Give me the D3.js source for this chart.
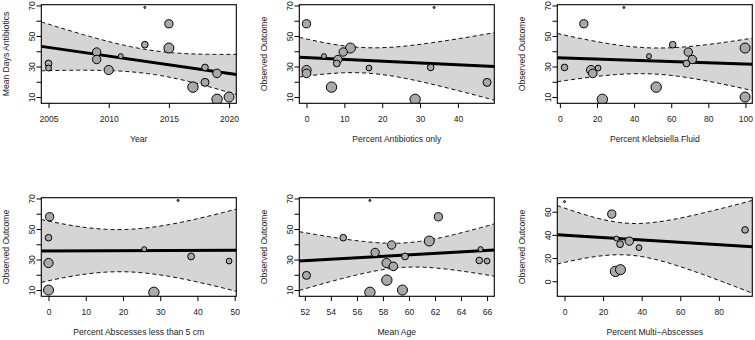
<!DOCTYPE html>
<html>
<head>
<meta charset="utf-8">
<script src="https://cdn.jsdelivr.net/npm/d3@7/dist/d3.min.js"></script>
<style>
  body { margin: 0; background: #fff; }
  svg text { font-family: "Liberation Sans", Arial, Helvetica, sans-serif; font-size: 8.6px; fill: #222; }
</style>
</head>
<body>
<div id="chart"></div>
<script>
// one entry per study: observed outcome and relative weight (bubble area)
const outcome = [32, 29, 39.5, 34.6, 27.7, 36.8, 68.7, 44.3, 58, 42.1, 16.5, 29.4, 19.6, 25.5, 8.5, 10];
const weight  = [11.6, 8.4, 17.6, 17.6, 21, 6.3, 1, 11, 16.8, 25, 27, 11, 16, 18.5, 27, 25];

// moderators per study (null = not reported)
const year         = [2005, 2005, 2009, 2009, 2010, 2011, 2013, 2013, 2015, 2015, 2017, 2018, 2018, 2019, 2019, 2020];
const pctAbxOnly   = [8, 16.5, 9.7, 8.3, 0, 4.6, 33.7, null, 0, 11.6, 6.6, 32.8, 47.7, 0, 28.7, null];
const pctKlebsiella = [68.2, 20.6, 69.2, 71.4, 16.8, 48, 34.5, 60.8, 12.9, 99.8, 51.9, 2.5, null, 17.7, 22.9, 99.8];
const pctSmall     = [38.3, 48.5, null, null, 0, 25.7, 34.8, 0, 0.3, null, null, null, null, null, 28.3, 0];
const meanAge      = [59.7, 66, 58.67, 57.4, 58.28, 65.5, 57, 54.95, 62.26, 61.56, 58.3, 65.4, 52.13, 58.8, 57, 59.5];
const pctMulti     = [28.8, 38.6, null, 33.6, null, 26.9, 0, 93.6, 24.5, null, null, null, null, null, 26.4, 29];

// panel texts and ticks
const xTitles = ["Year", "Percent Antibiotics only", "Percent Klebsiella Fluid",
                 "Percent Abscesses less than 5 cm", "Mean Age", "Percent Multi\u2212Abscesses"];
const yTitles = ["Mean Days Antibiotics", "Observed Outcome", "Observed Outcome",
                 "Observed Outcome", "Observed Outcome", "Observed Outcome"];
const xTickSets = [[2005, 2010, 2015, 2020], [0, 10, 20, 30, 40], [0, 20, 40, 60, 80, 100],
                   [0, 10, 20, 30, 40, 50], [52, 54, 56, 58, 60, 62, 64, 66], [0, 20, 40, 60, 80]];
const yDomains = [[5.9, 70.5], [5.9, 70.5], [5.9, 70.5], [5.9, 70.5], [5.9, 70.5], [-13, 72.1]];

// meta-regression fits: centre of the CI, fit at centre, slope, CI half-width at centre, CI widening
const regCenter = [2013.6, 15, 48.2, 18.9, 59.6, 32.7];
const regFit    = [32.75, 34.12, 33.73, 35.8, 32.86, 36.36];
const regSlope  = [-1.136, -0.117, -0.0418, 0.00955, 0.481, -0.1027];
const ciHalfMin = [7.8, 8.3, 8.5, 13.8, 8.0, 13.7];
const ciSpread  = [1.52, 0.592, 0.2686, 0.733, 2.18, 0.5814];

const moderators = [year, pctAbxOnly, pctKlebsiella, pctSmall, meanAge, pctMulti];

const W = 755, H = 340;
const plotW = 195, plotH = 98.6;
const colX = 41.3, colStep = 258;
const rowY = 4.7, rowStep = 193;

const svg = d3.select("#chart").append("svg")
    .attr("width", W)
    .attr("height", H);

const r = d3.scaleSqrt().domain([0, 25]).range([0, 5]);

moderators.forEach((mod, i) => {
    const left = colX + (i % 3) * colStep;
    const top = rowY + Math.floor(i / 3) * rowStep;

    const pts = mod.map((m, j) => ({ x: m, y: outcome[j], w: weight[j] }))
        .filter(d => d.x !== null)
        .sort((a, b) => b.w - a.w);

    // R style axis: data range padded by 4%
    const ext = d3.extent(pts, d => d.x);
    const pad = (ext[1] - ext[0]) * 0.04;
    const x = d3.scaleLinear().domain([ext[0] - pad, ext[1] + pad]).range([0, plotW]);
    const y = d3.scaleLinear().domain(yDomains[i]).range([plotH, 0]);

    const g = svg.append("g").attr("transform", `translate(${left},${top})`);

    g.append("clipPath").attr("id", "clip" + i)
        .append("rect").attr("width", plotW).attr("height", plotH);

    const inner = g.append("g").attr("clip-path", `url(#clip${i})`);

    // fitted line and confidence band
    const fit = v => regFit[i] + regSlope[i] * (v - regCenter[i]);
    const half = v => Math.sqrt(ciHalfMin[i] ** 2 + (ciSpread[i] * (v - regCenter[i])) ** 2);
    const xs = d3.ticks(x.domain()[0], x.domain()[1], 120);
    xs.unshift(x.domain()[0]);
    xs.push(x.domain()[1]);

    inner.append("path")
        .attr("d", d3.area().x(v => x(v)).y0(v => y(fit(v) - half(v))).y1(v => y(fit(v) + half(v)))(xs))
        .attr("fill", "#d5d5d5");

    [1, -1].forEach(s => {
        inner.append("path")
            .attr("d", d3.line().x(v => x(v)).y(v => y(fit(v) + s * half(v)))(xs))
            .attr("fill", "none")
            .attr("stroke", "#000")
            .attr("stroke-width", 1)
            .attr("stroke-dasharray", "4,3");
    });

    inner.append("path")
        .attr("d", d3.line().x(v => x(v)).y(v => y(fit(v)))(x.domain()))
        .attr("stroke", "#000")
        .attr("stroke-width", 3);

    // studies
    inner.selectAll("circle")
        .data(pts)
        .enter().append("circle")
        .attr("cx", d => x(d.x))
        .attr("cy", d => y(d.y))
        .attr("r", d => r(d.w))
        .attr("fill", "#a9a9a9")
        .attr("stroke", "#000")
        .attr("stroke-width", 1);

    // axes
    const xAxis = g.append("g")
        .attr("transform", `translate(0,${plotH})`)
        .call(d3.axisBottom(x).tickValues(xTickSets[i]).tickFormat(d3.format("d"))
            .tickSize(4.8).tickSizeOuter(0));
    xAxis.select(".domain").remove();
    xAxis.selectAll("line").attr("stroke", "#000");
    xAxis.selectAll("text").attr("y", 0).attr("dy", 0)
        .attr("transform", "translate(0,18.8)")
        .attr("fill", "#222");

    const yTicks = i === 5 ? [0, 20, 40, 60] : d3.range(10, 71, 10);
    const yAxis = g.append("g")
        .call(d3.axisLeft(y).tickValues(yTicks).tickSize(4.8).tickSizeOuter(0)
            .tickFormat(d => (i === 5 || d % 20 === 10) ? d : ""));
    yAxis.select(".domain").remove();
    yAxis.selectAll("line").attr("stroke", "#000");
    yAxis.selectAll("text").attr("x", 0).attr("dy", 0)
        .attr("text-anchor", "middle")
        .attr("transform", "translate(-6.2,0) rotate(-90)")
        .attr("fill", "#222");

    // box
    g.append("rect")
        .attr("width", plotW).attr("height", plotH)
        .attr("fill", "none").attr("stroke", "#000").attr("stroke-width", 1.1);

    // titles
    g.append("text")
        .attr("x", plotW / 2).attr("y", plotH + 39)
        .attr("text-anchor", "middle")
        .text(xTitles[i]);

    g.append("text")
        .attr("transform", `translate(-32.4,${plotH / 2}) rotate(-90)`)
        .attr("text-anchor", "middle")
        .text(yTitles[i]);
});
</script>
</body>
</html>
